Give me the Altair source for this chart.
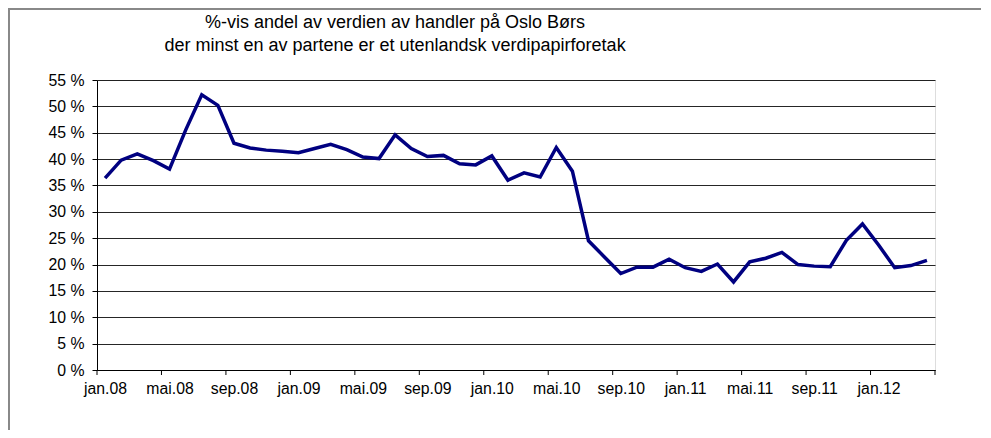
import altair as alt
import pandas as pd

# Monthly values, jan.08 .. apr.12 (percent)
values = [36.4, 39.8, 41.0, 39.7, 38.1, 45.5, 52.2, 50.2, 43.0, 42.1,
          41.7, 41.5, 41.2, 42.0, 42.8, 41.8, 40.4, 40.1, 44.6, 42.0,
          40.5, 40.7, 39.1, 38.9, 40.6, 36.0, 37.4, 36.6, 42.2, 37.7,
          24.5, 21.4, 18.3, 19.5, 19.5, 21.0, 19.4, 18.7, 20.1, 16.7,
          20.5, 21.2, 22.3, 20.0, 19.7, 19.6, 24.6, 27.7, 23.7, 19.4,
          19.8, 20.8]
month_names = ["jan", "feb", "mar", "apr", "mai", "jun",
               "jul", "aug", "sep", "okt", "nov", "des"]
years = ["08", "09", "10", "11", "12"]
months = [f"{m}.{y}" for y in years for m in month_names][:len(values)]

y_ticks = list(range(0, 60, 5))
label_idx = list(range(0, len(values), 4))
tick_pos = [i - 0.5 for i in range(0, len(values) + 1, 4)]

df = pd.DataFrame({"i": list(range(len(values))), "month": months, "v": values})
df_ticks = pd.DataFrame({"t": tick_pos})

lab_arr = "[" + ",".join("'" + months[i] + "'" for i in range(len(months))) + "]"

W, H = 838, 290
FONT = "Liberation Sans"
LFS = 15.8

xscale = alt.Scale(domain=[-0.5, len(values) - 0.5], nice=False, zero=False)
yscale = alt.Scale(domain=[0, 55], nice=False)

line = alt.Chart(df).mark_line(color="#000080", strokeWidth=3.5, strokeJoin="miter").encode(
    x=alt.X("i:Q", scale=xscale,
            axis=alt.Axis(values=label_idx, labelExpr=lab_arr + "[datum.value]",
                          ticks=False, grid=False, domain=True, domainColor="#000",
                          labelPadding=11, labelFontSize=LFS, labelFont=FONT,
                          labelColor="#000", title=None, labelFlush=False)),
    y=alt.Y("v:Q", scale=yscale,
            axis=alt.Axis(values=y_ticks, labelExpr="datum.value + ' %'",
                          grid=True, gridColor="#000", gridWidth=1, gridOpacity=0.85,
                          tickSize=5, tickColor="#000", domainColor="#000",
                          labelFontSize=LFS, labelFont=FONT, labelColor="#000",
                          labelPadding=8, title=None)),
)

ticks_x = alt.Chart(df_ticks).mark_rule(color="#000", strokeWidth=1).encode(
    x=alt.X("t:Q", scale=xscale),
    y=alt.value(H), y2=alt.value(H + 5),
)

border = alt.Chart(df_ticks).mark_rect(fill=None, stroke="#888", strokeWidth=1.5).encode(
    x=alt.value(-88.5), x2=alt.value(W + 70), y=alt.value(-71.5), y2=alt.value(H + 90)
)

chart = alt.layer(border, line, ticks_x).properties(
    width=W, height=H,
    autosize=alt.AutoSizeParams(type="none"),
    padding={"left": 89, "top": 72, "right": 46, "bottom": 60},
    title=alt.Title(
        ["%-vis andel av verdien av handler på Oslo Børs",
         "der minst en av partene er et utenlandsk verdipapirforetak"],
        anchor="middle", frame="group", dx=-121, offset=0, dy=47,
        fontSize=18, font=FONT, fontWeight="normal", color="#000", lineHeight=23,
    ),
).configure_view(stroke="#999", strokeWidth=2).configure(background="white")

chart.save("out.html", embed_options={"renderer": "svg", "actions": False})
